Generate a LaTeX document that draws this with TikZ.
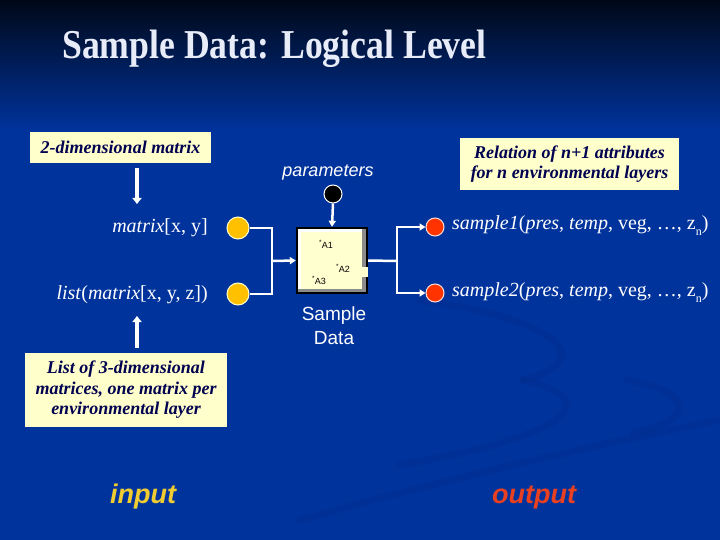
\documentclass[tikz,border=0pt]{standalone}
\usepackage{fontspec}
\usepackage{graphicx}
\setmainfont{Liberation Serif}
\newfontfamily\arial{Liberation Sans}
\usetikzlibrary{arrows.meta}
\definecolor{bgtop}{HTML}{000818}
\definecolor{bgbot}{HTML}{00339C}
\definecolor{swoosh}{HTML}{002C8A}
\definecolor{titlec}{HTML}{E8ECF8}
\definecolor{notefill}{HTML}{FFFFCC}
\definecolor{notetext}{HTML}{000050}
\definecolor{goldc}{HTML}{FFC000}
\definecolor{redc}{HTML}{FF3300}
\definecolor{sdfill}{HTML}{FFFFD0}
\definecolor{sdgray}{HTML}{8C8C8C}
\definecolor{inc}{HTML}{F0CC30}
\definecolor{outc}{HTML}{E84020}
\newcommand{\fs}[1]{\fontsize{#1bp}{1.2\dimexpr#1bp\relax}\selectfont}
\begin{document}
\begin{tikzpicture}[x=1bp,y=-1bp,
  note/.style={fill=notefill,draw=none,inner sep=0,text=notetext,align=center,
    font=\fs{18}\bfseries\itshape},
  conn/.style={draw=white,line width=2.5bp},
  arr/.style={conn,-{Triangle[length=6bp,width=7bp]}},
  bigarr/.style={draw=white,line width=3.5bp,-{Triangle[length=6bp,width=9bp]}},
  lbl/.style={text=white,inner sep=0,font=\fs{20}},
  dot/.style={circle,inner sep=0,line width=1bp}]
\useasboundingbox (0,0) rectangle (720,540);
% background
\fill[bgbot] (0,0) rectangle (720,540);
\shade[top color=bgtop,bottom color=bgbot] (0,0) rectangle (720,130);
% faint swooshes
\begin{scope}[swoosh,line width=7bp,opacity=0.35,line cap=round]
\draw (300,520) .. controls (480,470) and (620,440) .. (720,420);
\draw (523,380) .. controls (590,395) and (600,430) .. (400,465);
\draw (627,380) .. controls (690,390) and (700,420) .. (633,433);
\draw (420,300) .. controls (560,320) and (600,360) .. (523,380);
\end{scope}
% title
\node[anchor=base west,inner sep=0,text=titlec,font=\fs{35.7}\bfseries] (title) at (62,59)
  {\scalebox{1}[1.15]{Sample Data: Logical Level}};
% notes
\node[note,minimum width=181bp,minimum height=31bp] (n2d) at (120.5,147.5) {2-dimensional matrix};
\node[note,minimum width=219bp,minimum height=52bp] (nrel) at (569.5,164)
  {Relation of n+1 attributes\\[-1bp]for n environmental layers};
\node[note,minimum width=202bp,minimum height=74bp] (nlist) at (126,390)
  {List of 3-dimensional\\[-1bp]matrices, one matrix per\\[-1bp]environmental layer};
% input labels
\node[lbl,anchor=east] (m2) at (208,228) {\textit{matrix}[x, y]};
\node[lbl,anchor=east] (m3) at (208,295) {\textit{list}(\textit{matrix}[x, y, z])};
\node[dot,fill=goldc,draw=notefill,minimum size=22bp] (c1) at (238,228) {};
\node[dot,fill=goldc,draw=notefill,minimum size=22bp] (c2) at (238,294) {};
% parameters
\node[inner sep=0,text=white,font=\arial\fs{18}\itshape] (par) at (328,173) {parameters};
\node[dot,fill=black,draw=white,minimum size=18bp] (pc) at (333,194) {};
% sample data box
\node[fill=black,inner sep=0,minimum width=72bp,minimum height=67bp] (sd) at (332,260.5) {};
\fill[sdgray] (298,229) rectangle (366,292);
\fill[white] (298,229) rectangle (362,289);
\fill[sdfill] (301,232) rectangle (362,289);
\fill[sdfill] (360,267) rectangle (368,277);
\node[inner sep=0,font=\arial\fs{9}] (a1) at (326,244) {\textsuperscript{*}A1};
\node[inner sep=0,font=\arial\fs{9}] (a2) at (343,268) {\textsuperscript{*}A2};
\node[inner sep=0,font=\arial\fs{9}] (a3) at (319,280) {\textsuperscript{*}A3};
\node[text=white,align=center,inner sep=0,font=\arial\fs{19}] (sdl) at (334,326) {Sample\\[1bp]Data};
% outputs
\node[dot,fill=redc,draw=white!85!redc,minimum size=18bp] (r1) at (435,227) {};
\node[dot,fill=redc,draw=white!85!redc,minimum size=18bp] (r2) at (435,293) {};
\node[lbl,anchor=west] (s1) at (452,226)
  {\textit{sample1}(\textit{pres}, \textit{temp}, veg, …, z\raisebox{-0.3em}{\fs{12}n})};
\node[lbl,anchor=west] (s2) at (452,293)
  {\textit{sample2}(\textit{pres}, \textit{temp}, veg, …, z\raisebox{-0.3em}{\fs{12}n})};
% connectors
\coordinate (jl) at (272,261);
\coordinate (jr) at (397,261);
\draw[conn] (c1.east) -| (jl);
\draw[conn] (c2.east) -| (jl);
\draw[arr] (jl) -- (sd.west);
\draw[arr] (pc.south) -- (sd.north);
\draw[conn] (sd.east) -- (jr);
\draw[arr] (jr) |- (r1.west);
\draw[arr] (jr) |- (r2.west);
\coordinate (d2top) at (137,168);
\coordinate (d2bot) at (137,204);
\draw[bigarr] (d2top) -- (d2bot);
\coordinate (u3bot) at (137,348);
\coordinate (u3top) at (137,316);
\draw[bigarr] (u3bot) -- (u3top);
% input / output
\node[inner sep=0,text=inc,font=\arial\fs{27}\bfseries\itshape] (inp) at (143,497) {input};
\node[inner sep=0,text=outc,font=\arial\fs{27}\bfseries\itshape] (outp) at (534,497) {output};
\end{tikzpicture}
\end{document}
